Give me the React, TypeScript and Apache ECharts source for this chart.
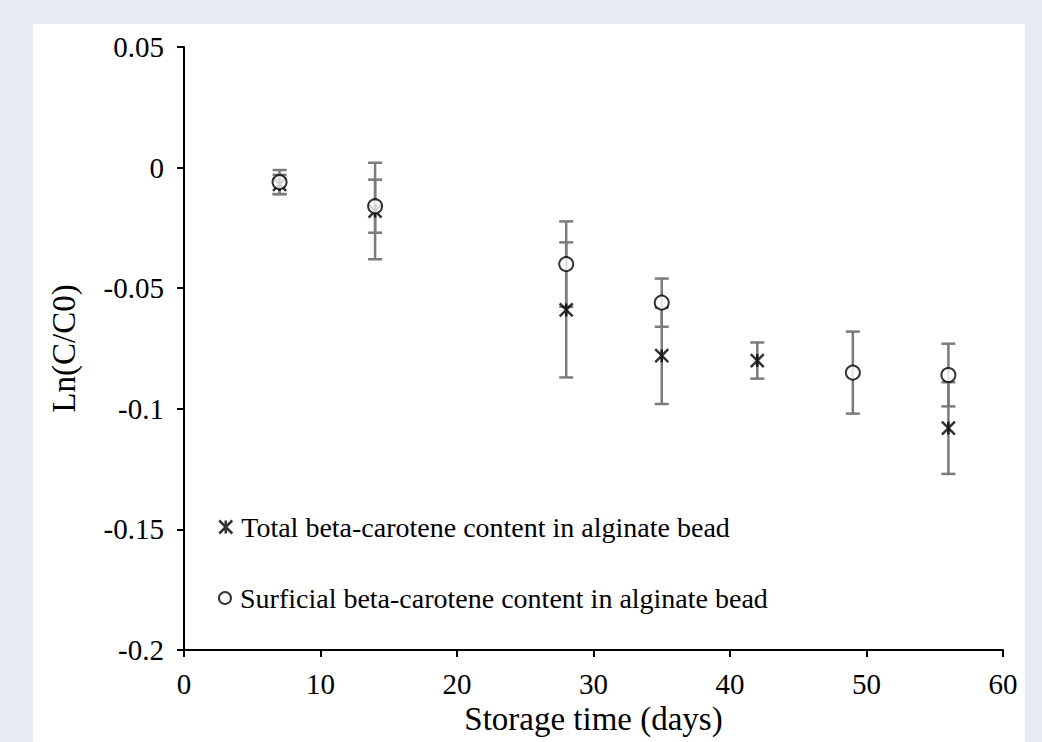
import React, { useEffect, useRef } from "react";
import * as echarts from "echarts";

const days = [7, 14, 28, 35, 42, 49, 56];
const totalValues = [-0.007, -0.018, -0.059, -0.078, -0.08, null, -0.108];
const totalErrors = [0.004, 0.02, 0.028, 0.02, 0.0075, null, 0.019];
const surficialValues = [-0.006, -0.016, -0.04, -0.056, null, -0.085, -0.086];
const surficialErrors = [0.005, 0.011, 0.0177, 0.01, null, 0.017, 0.013];
const totalName = "Total beta-carotene content in alginate bead";
const surficialName = "Surficial beta-carotene content in alginate bead";

const FONT = "'Liberation Serif', 'Times New Roman', serif";
const ERR_COLOR = "#7b7b7b";

function points(vals: (number | null)[]) {
  const out: number[][] = [];
  vals.forEach((v, i) => {
    if (v !== null) out.push([days[i], v]);
  });
  return out;
}
function bars(vals: (number | null)[], errs: (number | null)[]) {
  const out: number[][] = [];
  vals.forEach((v, i) => {
    const e = errs[i];
    if (v !== null && e !== null) out.push([days[i], v - e, v + e]);
  });
  return out;
}

const renderErr = (params: any, api: any) => {
  const x = api.value(0);
  const lo = api.value(1);
  const hi = api.value(2);
  const a = api.coord([x, hi]);
  const b = api.coord([x, lo]);
  const w = 7;
  const style = { stroke: ERR_COLOR, lineWidth: 2.5 };
  return {
    type: "group",
    children: [
      { type: "line", shape: { x1: a[0], y1: a[1], x2: b[0], y2: b[1] }, style },
      { type: "line", shape: { x1: a[0] - w, y1: a[1], x2: a[0] + w, y2: a[1] }, style },
      { type: "line", shape: { x1: b[0] - w, y1: b[1], x2: b[0] + w, y2: b[1] }, style },
    ],
  };
};

export default function App() {
  const ref = useRef<HTMLDivElement>(null);
  useEffect(() => {
    if (!ref.current) return;
    const chart = echarts.init(ref.current, undefined, { renderer: "svg" });
    const axisCommon = {
      axisLine: { show: true, onZero: false, lineStyle: { color: "#000", width: 2 } },
      axisTick: { show: true, inside: false, length: 7, lineStyle: { color: "#000", width: 2 } },
      splitLine: { show: false },
    };
    const legendText = { fontFamily: FONT, fontSize: 28, color: "#000", padding: [0, 0, 0, 4] };
    chart.setOption({
      animation: false,
      backgroundColor: "#ffffff",
      textStyle: { fontFamily: FONT },
      grid: { left: 151, top: 23, width: 819, height: 603 },
      legend: [
        {
          data: [{ name: totalName, itemStyle: { color: "#000", borderColor: "#000", borderWidth: 2.5 } }],
          left: 185,
          top: 489,
          padding: 0,
          itemWidth: 13,
          itemHeight: 13,
          textStyle: legendText,
        },
        {
          data: [{ name: surficialName, itemStyle: { color: "#000", borderColor: "#000", borderWidth: 2.5 } }],
          left: 185,
          top: 560,
          padding: 0,
          itemWidth: 12,
          itemHeight: 12,
          textStyle: legendText,
        },
      ],
      xAxis: {
        type: "value",
        min: 0,
        max: 60,
        interval: 10,
        ...axisCommon,
        axisLabel: { fontFamily: FONT, fontSize: 29, color: "#000", margin: 19 },
        name: "Storage time (days)",
        nameLocation: "middle",
        nameGap: 52,
        nameTextStyle: { fontFamily: FONT, fontSize: 33, color: "#000" },
      },
      yAxis: {
        type: "value",
        min: -0.2,
        max: 0.05,
        interval: 0.05,
        ...axisCommon,
        axisLabel: {
          fontFamily: FONT,
          fontSize: 29,
          color: "#000",
          margin: 20,
          formatter: (v: number) => String(Math.round(v * 100) / 100),
        },
        name: "Ln(C/C0)",
        nameLocation: "middle",
        nameGap: 104,
        nameTextStyle: { fontFamily: FONT, fontSize: 33, color: "#000" },
      },
      series: [
        {
          type: "custom",
          name: "totalErr",
          renderItem: renderErr,
          data: bars(totalValues, totalErrors),
          z: 1,
          silent: true,
        },
        {
          type: "custom",
          name: "surfErr",
          renderItem: renderErr,
          data: bars(surficialValues, surficialErrors),
          z: 1,
          silent: true,
        },
        {
          type: "scatter",
          name: totalName,
          data: points(totalValues),
          symbol: "path://M0,0L10,10M10,0L0,10M5,0L5,10",
          symbolSize: 13,
          itemStyle: { color: "#000", borderColor: "#000", borderWidth: 2.5 },
          z: 3,
        },
        {
          type: "scatter",
          name: surficialName,
          data: points(surficialValues),
          symbol: "emptyCircle",
          symbolSize: 14,
          itemStyle: { color: "#000", borderColor: "#000", borderWidth: 2.2 },
          z: 4,
        },
      ],
    });
    return () => chart.dispose();
  }, []);
  return (
    <div
      style={{
        position: "fixed",
        left: 0,
        top: 0,
        width: 1042,
        height: 742,
        background: "#e6ebf5",
      }}
    >
      <div
        ref={ref}
        style={{ position: "absolute", left: 33, top: 24, width: 992, height: 718, background: "#fff" }}
      />
    </div>
  );
}
